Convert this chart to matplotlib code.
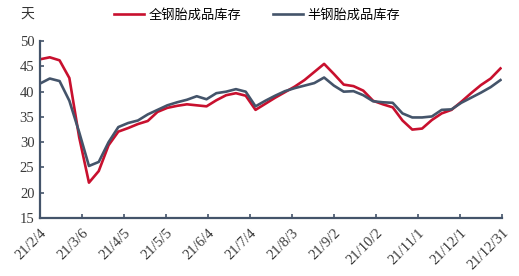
import datetime as dt
import matplotlib
matplotlib.use("Agg")
import matplotlib.pyplot as plt
import matplotlib.dates as mdates

# weekly readings, first point 2021-02-04
START = dt.date(2021, 2, 4)
ALL_STEEL = [46.4, 46.8, 46.2, 42.7, 31.0, 22.0, 24.3, 29.4, 32.1, 32.8,
             33.6, 34.2, 36.0, 36.8, 37.2, 37.5, 37.3, 37.1, 38.3, 39.3,
             39.7, 39.2, 36.4, 37.6, 38.8, 39.9, 41.0, 42.3, 43.9, 45.5,
             43.5, 41.4, 41.1, 40.2, 38.2, 37.5, 36.9, 34.3, 32.5, 32.7,
             34.4, 35.7, 36.4, 38.0, 39.7, 41.3, 42.6, 44.6]
SEMI_STEEL = [41.6, 42.6, 42.1, 38.2, 32.0, 25.3, 26.1, 30.0, 33.0, 33.8,
              34.3, 35.5, 36.4, 37.3, 37.9, 38.4, 39.1, 38.5, 39.7, 40.0,
              40.5, 40.0, 37.1, 38.2, 39.2, 40.1, 40.7, 41.2, 41.7, 42.8,
              41.2, 40.0, 40.1, 39.3, 38.1, 37.9, 37.8, 35.7, 34.9, 34.9,
              35.1, 36.4, 36.5, 37.8, 38.8, 39.8, 40.9, 42.3]
TICK_LABELS = ["21/2/4", "21/3/6", "21/4/5", "21/5/5", "21/6/4", "21/7/4",
               "21/8/3", "21/9/2", "21/10/2", "21/11/1", "21/12/1", "21/12/31"]
YTICKS = [15, 20, 25, 30, 35, 40, 45, 50]

RED = "#c8102e"
GREY = "#44546a"

plt.rcParams["font.family"] = ["Noto Sans CJK SC", "DejaVu Sans"]

dates = [START + dt.timedelta(days=7 * i) for i in range(len(ALL_STEEL))]
tick_dates = [START + dt.timedelta(days=30 * i) for i in range(len(TICK_LABELS))]

fig = plt.figure(figsize=(5.19, 2.76), dpi=100)
ax = fig.add_axes([0.077, 0.21, 0.890, 0.641])

ax.plot(dates, ALL_STEEL, color=RED, lw=1.9, label="全钢胎成品库存")
ax.plot(dates, SEMI_STEEL, color=GREY, lw=1.9, label="半钢胎成品库存")

ax.set_xlim(tick_dates[0], tick_dates[-1])
ax.set_ylim(15, 50)
ax.set_yticks(YTICKS)
ax.set_xticks(tick_dates)
ax.set_xticklabels(TICK_LABELS, rotation=45, ha="right", rotation_mode="anchor")

for lab in ax.get_xticklabels() + ax.get_yticklabels():
    lab.set_fontfamily("Liberation Serif")
    lab.set_fontsize(10.5)
    lab.set_color("#3a3a3a")

for s in ("top", "right"):
    ax.spines[s].set_visible(False)
for s in ("left", "bottom"):
    ax.spines[s].set_color(GREY)
    ax.spines[s].set_linewidth(1.6)
ax.tick_params(axis="both", direction="in", length=3, width=1.2, color=GREY, pad=4)
ax.tick_params(axis="x", pad=6)

fig.text(0.04, 0.95, "天", fontsize=10, color="#333333", ha="left", va="center")
fig.legend(loc="center", bbox_to_anchor=(0.495, 0.945), ncol=2, frameon=False,
           fontsize=9.5, handlelength=2.3, columnspacing=2.4, handletextpad=0.3)

fig.savefig("out.png", dpi=100)
